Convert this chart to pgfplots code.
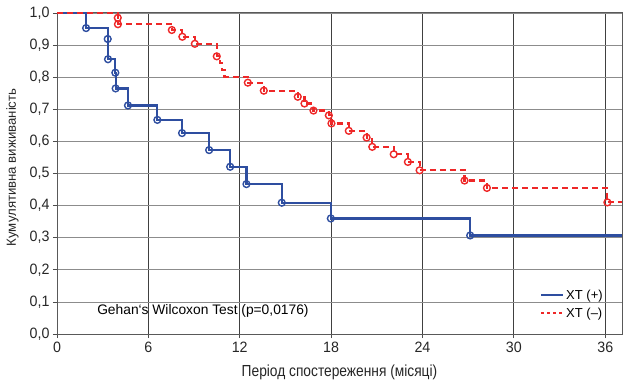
\documentclass[border=0pt]{standalone}
\usepackage{fontspec}
\setmainfont{Liberation Sans}
\newfontfamily\condfont{Liberation Sans}[FakeStretch=0.86]
\newfontfamily\tickfont{Liberation Sans}[FakeStretch=0.95]
\usepackage{pgfplots}
\pgfplotsset{compat=1.18}
\definecolor{kmblue}{RGB}{46,78,160}
\definecolor{kmred}{RGB}{238,40,40}
\begin{document}
\begin{tikzpicture}
\useasboundingbox (-57pt,-57pt) rectangle (577pt,334pt);
\begin{axis}[
  at={(0pt,0pt)}, anchor=south west,
  scale only axis, width=565pt, height=321pt,
  xmin=0, xmax=37.1, ymin=0, ymax=1,
  xtick={0,6,12,18,24,30,36},
  ytick={0,0.1,0.2,0.3,0.4,0.5,0.6,0.7,0.8,0.9,1.0},
  yticklabel style={/pgf/number format/.cd, fixed, fixed zerofill, precision=1, use comma, assume math mode=true},
  xticklabel style={/pgf/number format/assume math mode=true},
  tick label style={font=\tickfont\fontsize{15}{15}\selectfont, black!85},
  tick align=outside, tick pos=left, major tick length=4pt,
  tick style={black!70, line width=0.8pt},
  axis line style={black!65, line width=1pt},
  xmajorgrids, ymajorgrids,
  x grid style={black!75, line width=0.8pt},
  y grid style={black!45, line width=0.8pt},
  xlabel={Період спостереження (місяці)},
  ylabel={Кумулятивна виживаність},
  xlabel style={font=\condfont\fontsize{16}{18}\selectfont, black!85, at={(axis description cs:0.5,-0.12)}, anchor=center},
  ylabel style={font=\fontsize{13.2}{15}\selectfont, black!85, at={(axis description cs:-0.079,0.519)}, anchor=center},
  legend style={draw=none, fill=none, at={(rel axis cs:0.975,0.035)}, anchor=south east,
    font=\fontsize{13}{14}\selectfont, row sep=3pt, legend cell align=left},
  legend image code/.code={\draw[#1] (0pt,0pt) -- (22pt,0pt);},
  clip=true,
]
% XT (+)
\addplot[kmblue, line width=2.2pt, const plot mark left, forget plot] coordinates {
 (0,1.0) (1.91,0.953) (3.33,0.919) (3.35,0.856) (3.83,0.814) (3.85,0.765)
 (4.66,0.712) (6.59,0.667) (8.21,0.626) (9.99,0.573) (11.37,0.521)
 (12.44,0.467) (14.76,0.409) (17.98,0.360) (27.13,0.307) (37.1,0.307)
};
\addplot[kmblue, only marks, mark=o, mark size=3.4pt, mark options={line width=1.4pt, fill=white}, forget plot] coordinates {
 (1.91,0.953) (3.33,0.919) (3.35,0.856) (3.83,0.814) (3.85,0.765)
 (4.66,0.712) (6.59,0.667) (8.21,0.626) (9.99,0.573) (11.37,0.521)
 (12.44,0.467) (14.76,0.409) (17.98,0.360) (27.13,0.307)
};
% XT (-)
\addplot[kmred, line width=2.2pt, dash pattern=on 6pt off 4pt, const plot mark left, forget plot] coordinates {
 (0,1.0) (3.99,0.985) (4.00,0.965) (7.54,0.947) (8.23,0.926) (9.05,0.904)
 (10.49,0.865) (10.70,0.843) (10.85,0.822) (11.0,0.80) (12.53,0.783)
 (13.58,0.758) (15.81,0.739) (16.25,0.718) (16.84,0.696) (17.85,0.681)
 (18.02,0.656) (19.16,0.633) (20.33,0.612) (20.70,0.583) (22.11,0.560)
 (23.04,0.536) (23.81,0.510) (26.76,0.478) (28.23,0.455) (36.14,0.410) (37.1,0.410)
};
\addplot[kmred, only marks, mark=o, mark size=3.4pt, mark options={line width=1.4pt, fill=white}, forget plot] coordinates {
 (3.99,0.985) (4.00,0.965) (7.54,0.947) (8.23,0.926) (9.05,0.904)
 (10.49,0.865) (12.53,0.783)
 (13.58,0.758) (15.81,0.739) (16.25,0.718) (16.84,0.696) (17.85,0.681)
 (18.02,0.656) (19.16,0.633) (20.33,0.612) (20.70,0.583) (22.11,0.560)
 (23.04,0.536) (23.81,0.510) (26.76,0.478) (28.23,0.455) (36.14,0.410)
};
\addlegendimage{kmblue, line width=2.2pt}
\addlegendentry{ХТ (+)}
\addlegendimage{kmred, line width=2.2pt, dash pattern=on 3pt off 3pt}
\addlegendentry{ХТ (–)}
\node[anchor=west, font=\fontsize{13.8}{15}\selectfont, inner sep=0pt] at (axis cs:2.63,0.072) {Gehan`s Wilcoxon Test (p=0,0176)};
\end{axis}
\end{tikzpicture}
\end{document}
